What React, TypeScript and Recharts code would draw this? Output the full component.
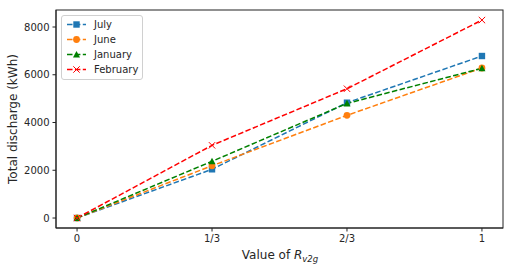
import React from "react";
import { LineChart, Line, XAxis, YAxis } from "recharts";

const xLabels = ["0", "1/3", "2/3", "1"];
const xIndex = [0, 1, 2, 3];
const july = [0, 2040, 4830, 6785];
const june = [0, 2190, 4300, 6283];
const january = [0, 2375, 4800, 6270];
const february = [0, 3045, 5415, 8290];
const yTicks = [0, 2000, 4000, 6000, 8000];

const data = xIndex.map((x, i) => ({
  x,
  july: july[i],
  june: june[i],
  january: january[i],
  february: february[i],
}));

type Shape = "square" | "circle" | "triangle" | "x";

const series: { key: string; name: string; color: string; shape: Shape }[] = [
  { key: "july", name: "July", color: "#1f77b4", shape: "square" },
  { key: "june", name: "June", color: "#ff7f0e", shape: "circle" },
  { key: "january", name: "January", color: "#008000", shape: "triangle" },
  { key: "february", name: "February", color: "#ff0000", shape: "x" },
];

function markerEl(shape: Shape, cx: number, cy: number, color: string, key?: string) {
  const s = 3.2;
  if (shape === "square")
    return <rect key={key} x={cx - s} y={cy - s} width={2 * s} height={2 * s} fill={color} />;
  if (shape === "circle") return <circle key={key} cx={cx} cy={cy} r={3.4} fill={color} />;
  if (shape === "triangle")
    return (
      <polygon
        key={key}
        points={`${cx},${cy - 3.6} ${cx - 3.5},${cy + 3} ${cx + 3.5},${cy + 3}`}
        fill={color}
      />
    );
  return (
    <g key={key} stroke={color} strokeWidth={1}>
      <line x1={cx - 3.2} y1={cy - 3.2} x2={cx + 3.2} y2={cy + 3.2} />
      <line x1={cx - 3.2} y1={cy + 3.2} x2={cx + 3.2} y2={cy - 3.2} />
    </g>
  );
}

const font = "'DejaVu Sans', sans-serif";
const textColor = "#262626";

export default function App() {
  return (
    <div style={{ position: "absolute", left: 0, top: 0, width: 513, height: 274, background: "#fff" }}>
      <LineChart
        width={513}
        height={274}
        data={data}
        margin={{ top: 10, right: 10, bottom: 16, left: 10 }}
      >
        <XAxis
          dataKey="x"
          type="number"
          domain={[-0.156, 3.156]}
          ticks={xIndex}
          tickFormatter={(v: number) => xLabels[v]}
          height={30}
          tickSize={3.5}
          tickMargin={3}
          stroke="#222"
          tick={{ fill: textColor, fontSize: 10, fontFamily: font }}
          interval={0}
        />
        <YAxis
          domain={[-418, 8712]}
          ticks={yTicks}
          width={46}
          tickSize={3.5}
          tickMargin={3}
          stroke="#222"
          tick={{ fill: textColor, fontSize: 10, fontFamily: font }}
          interval={0}
        />
        {series.map((s) => (
          <Line
            key={s.key}
            dataKey={s.key}
            name={s.name}
            stroke={s.color}
            strokeWidth={1.5}
            strokeDasharray="5.5 2.4"
            isAnimationActive={false}
            dot={(p: any) => markerEl(s.shape, p.cx, p.cy, s.color, `${s.key}-${p.index}`)}
            activeDot={false}
          />
        ))}
        <text
          x={13}
          y={119}
          transform="rotate(-90 13 119)"
          textAnchor="middle"
          dominantBaseline="central"
          fontSize={12}
          fontFamily={font}
          fill={textColor}
        >
          Total discharge (kWh)
        </text>
        <text x={280} y={259} textAnchor="middle" fontSize={12} fontFamily={font} fill={textColor}>
          Value of{" "}
          <tspan fontStyle="italic">R</tspan>
          <tspan fontStyle="italic" fontSize={8.5} dy={3}>v2g</tspan>
        </text>
      </LineChart>
      <svg
        width={513}
        height={274}
        style={{ position: "absolute", left: 0, top: 0, pointerEvents: "none" }}
      >
        <rect x={56} y={10} width={447} height={218} fill="none" stroke="#222" strokeWidth={1} />
      </svg>
      <div
        style={{
          position: "absolute",
          left: 61,
          top: 15,
          width: 80,
          height: 63,
          border: "1px solid #d0d0d0",
          borderRadius: 3,
          background: "rgba(255,255,255,0.8)",
        }}
      >
        <svg width={80} height={63} style={{ display: "block" }}>
          {series.map((s, i) => {
            const y = 8.5 + i * 15;
            return (
              <g key={s.key}>
                <line x1={5} x2={24} y1={y} y2={y} stroke={s.color} strokeWidth={1.5} strokeDasharray="5.5 2.4" />
                {markerEl(s.shape, 14.5, y, s.color)}
                <text x={32} y={y} dominantBaseline="central" fontSize={10} fontFamily={font} fill={textColor}>
                  {s.name}
                </text>
              </g>
            );
          })}
        </svg>
      </div>
    </div>
  );
}
